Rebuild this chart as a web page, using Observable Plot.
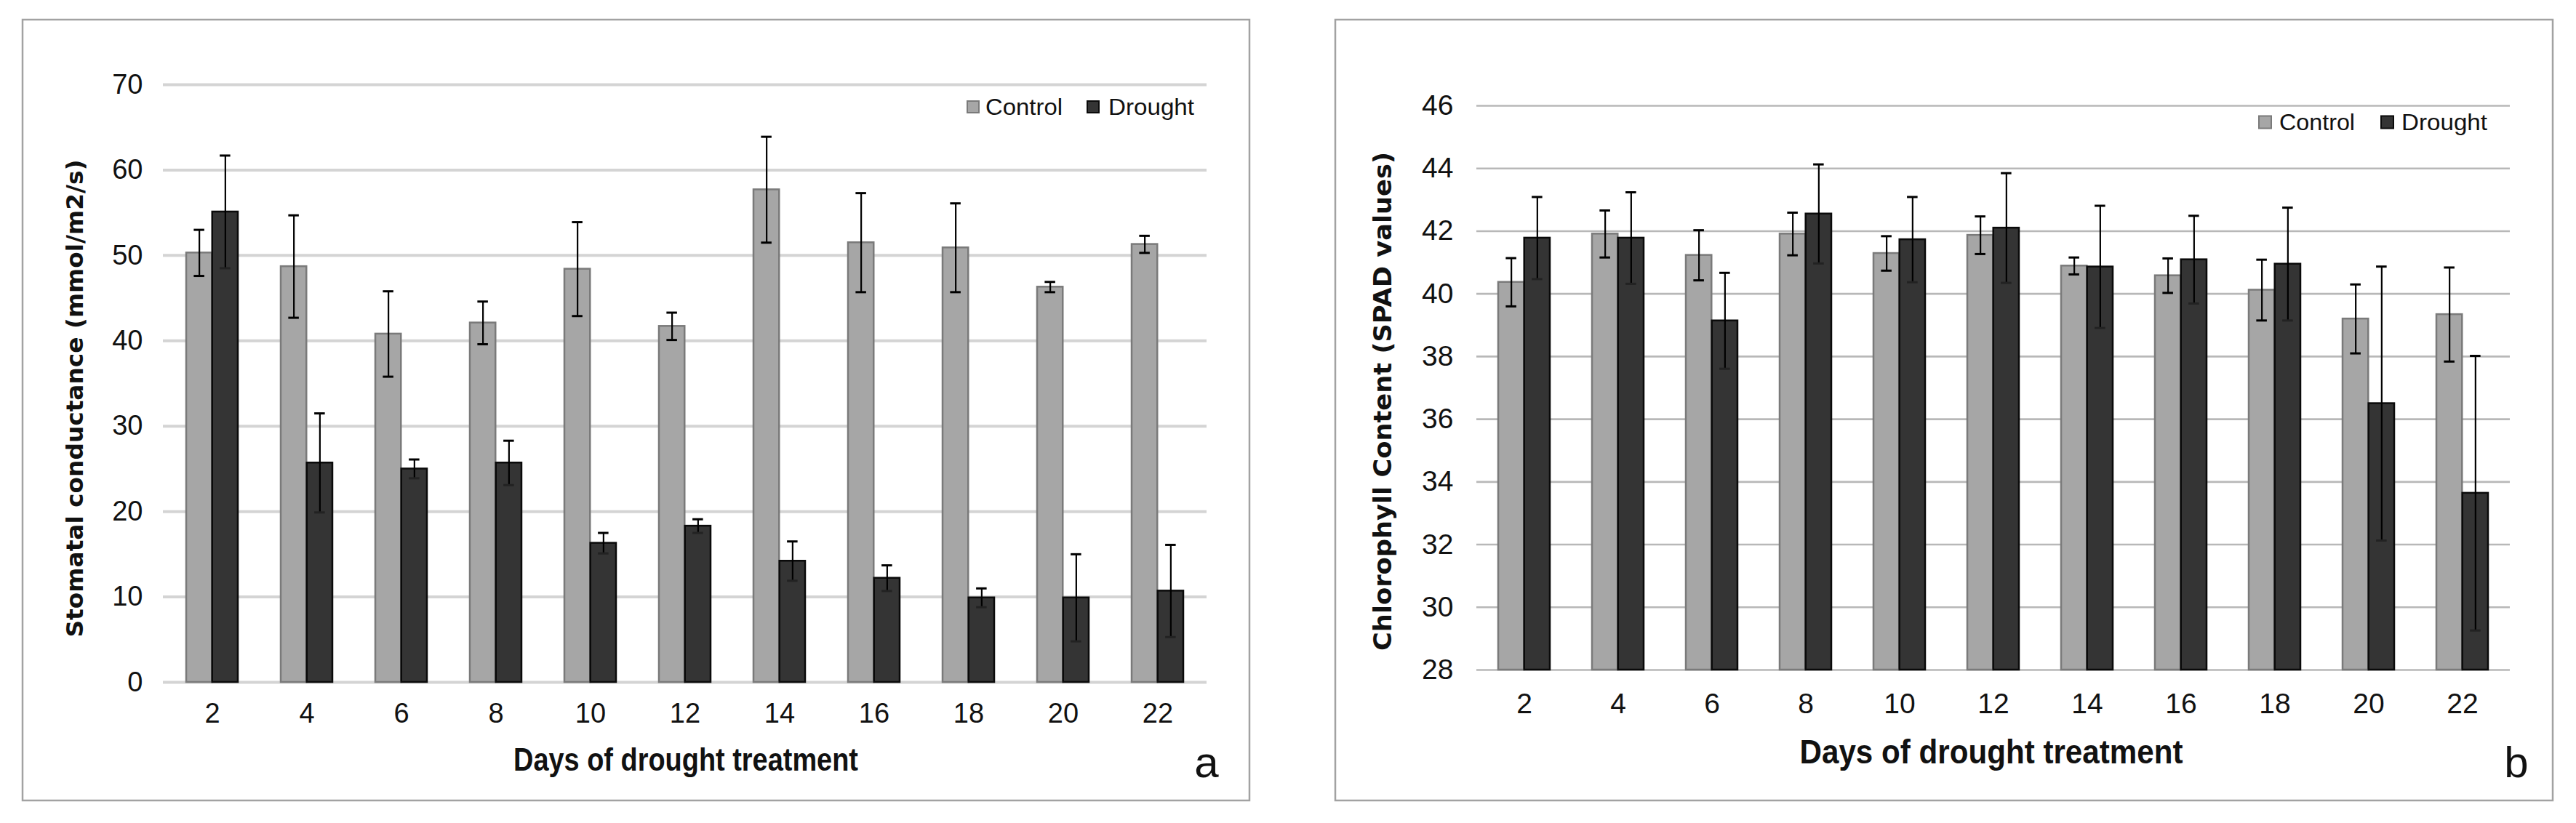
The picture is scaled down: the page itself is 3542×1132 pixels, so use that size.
<!DOCTYPE html>
<html>
<head>
<meta charset="utf-8">
<script src="https://cdn.jsdelivr.net/npm/d3@7"></script>
<script src="https://cdn.jsdelivr.net/npm/@observablehq/plot@0.6"></script>
<style>
  html, body { margin: 0; padding: 0; background: #fff; }
  #page { position: relative; width: 3542px; height: 1132px; overflow: hidden; background: #fff; }
  .panel { position: absolute; }
  #overlay { position: absolute; left: 0; top: 0; pointer-events: none; }
</style>
</head>
<body>
<div id="page">
  <div id="panelA" class="panel" style="left:31px;top:27px;"></div>
  <div id="panelB" class="panel" style="left:1836px;top:27px;"></div>
</div>
<script>
// ---------- data ----------
const days = [2, 4, 6, 8, 10, 12, 14, 16, 18, 20, 22];
const seriesNames = ["Control", "Drought"];

// Panel a: Stomatal conductance (mmol/m2/s)
const condControl    = [50.3, 48.7, 40.8, 42.1, 48.4, 41.7, 57.7, 51.5, 50.9, 46.3, 51.3];
const condControlErr = [2.7, 6.0, 5.0, 2.5, 5.5, 1.6, 6.2, 5.8, 5.2, 0.6, 1.0];
const condDrought    = [55.1, 25.7, 25.0, 25.7, 16.3, 18.3, 14.2, 12.2, 9.9, 9.9, 10.7];
const condDroughtErr = [6.6, 5.8, 1.1, 2.6, 1.2, 0.8, 2.3, 1.5, 1.1, 5.1, 5.4];
const condTicks = [0, 10, 20, 30, 40, 50, 60, 70];

// Panel b: Chlorophyll content (SPAD values)
const chlControl    = [40.37, 41.91, 41.23, 41.91, 41.29, 41.87, 40.89, 40.58, 40.12, 39.20, 39.34];
const chlControlErr = [0.77, 0.75, 0.80, 0.68, 0.55, 0.60, 0.27, 0.55, 0.97, 1.10, 1.50];
const chlDrought    = [41.78, 41.78, 39.14, 42.55, 41.73, 42.10, 40.86, 41.09, 40.95, 36.50, 33.64];
const chlDroughtErr = [1.31, 1.46, 1.53, 1.58, 1.36, 1.75, 1.95, 1.40, 1.80, 4.37, 4.38];
const chlTicks = [28, 30, 32, 34, 36, 38, 40, 42, 44, 46];

// texts
const titleA = "Stomatal conductance (mmol/m2/s)";
const titleB = "Chlorophyll Content (SPAD values)";
const xTitle = "Days of drought treatment";

// ---------- drawing ----------
const colControlFill = "#a6a6a6", colControlStroke = "#7a7a7a";
const colDroughtFill = "#343434", colDroughtStroke = "#0a0a0a";

function panel({control, controlErr, drought, droughtErr, ticks, width, height,
                marginLeft, marginRight, marginTop, marginBottom, padInner,
                gridStroke, gridWidth, tickPadX, tickPadY, fontSize}) {
  const rows = days.map((d, i) => ({
    day: d, control: control[i], controlErr: controlErr[i],
    drought: drought[i], droughtErr: droughtErr[i]
  }));
  const base = ticks[0];
  const step = (width - marginLeft - marginRight) / days.length;
  const bw = step * (1 - padInner);
  const half = bw / 2, quarter = bw / 4, cap = 7.5;
  const err = (key, sign) => d => d[key] + sign * d[key + "Err"];
  return Plot.plot({
    width, height, marginLeft, marginRight, marginTop, marginBottom,
    style: {fontFamily: "'Liberation Sans', Arial, sans-serif", fontSize: fontSize + "px", color: "#111", background: "transparent"},
    x: {type: "band", domain: days, paddingInner: padInner, paddingOuter: padInner / 2,
        tickSize: 0, tickPadding: tickPadX, label: null},
    y: {domain: [ticks[0], ticks[ticks.length - 1]], ticks, tickSize: 0, tickPadding: tickPadY, label: null},
    marks: [
      Plot.ruleY(ticks, {stroke: gridStroke, strokeWidth: gridWidth}),
      Plot.barY(rows, {x: "day", y1: () => base, y2: "control", insetRight: half,
        fill: colControlFill, stroke: colControlStroke, strokeWidth: 2.5}),
      Plot.barY(rows, {x: "day", y1: () => base, y2: "drought", insetLeft: half,
        fill: colDroughtFill, stroke: colDroughtStroke, strokeWidth: 2.5}),
      Plot.ruleX(rows, {x: "day", y1: err("control", -1), y2: err("control", 1), dx: -quarter, stroke: "#000", strokeWidth: 2.2}),
      Plot.tickY(rows, {x: "day", y: err("control", 1), insetLeft: quarter - cap, insetRight: 3 * quarter - cap, stroke: "#000", strokeWidth: 3}),
      Plot.tickY(rows, {x: "day", y: err("control", -1), insetLeft: quarter - cap, insetRight: 3 * quarter - cap, stroke: "#000", strokeWidth: 3}),
      Plot.ruleX(rows, {x: "day", y1: err("drought", -1), y2: err("drought", 1), dx: quarter, stroke: "#000", strokeWidth: 2.2}),
      Plot.tickY(rows, {x: "day", y: err("drought", 1), insetLeft: 3 * quarter - cap, insetRight: quarter - cap, stroke: "#000", strokeWidth: 3}),
      Plot.tickY(rows, {x: "day", y: err("drought", -1), insetLeft: 3 * quarter - cap, insetRight: quarter - cap, stroke: "#222", strokeWidth: 3})
    ]
  });
}

document.getElementById("panelA").appendChild(panel({
  control: condControl, controlErr: condControlErr, drought: condDrought, droughtErr: condDroughtErr,
  ticks: condTicks, width: 1687, height: 1074, marginLeft: 193, marginRight: 59, marginTop: 89, marginBottom: 163,
  padInner: 0.452, gridStroke: "#d4d4d4", gridWidth: 4, tickPadX: 29, tickPadY: 28, fontSize: 38
}));

document.getElementById("panelB").appendChild(panel({
  control: chlControl, controlErr: chlControlErr, drought: chlDrought, droughtErr: chlDroughtErr,
  ticks: chlTicks, width: 1674, height: 1074, marginLeft: 194, marginRight: 59, marginTop: 118, marginBottom: 180,
  padInner: 0.447, gridStroke: "#b8b8b8", gridWidth: 2.6, tickPadX: 32, tickPadY: 32, fontSize: 39
}));

// ---------- overlay: frames, axis titles, legends, panel letters ----------
const svg = d3.select("#page").append("svg").attr("id", "overlay")
  .attr("width", 3542).attr("height", 1132);

function frame(x, y, w, h) {
  svg.append("rect").attr("x", x).attr("y", y).attr("width", w).attr("height", h)
    .attr("fill", "none").attr("stroke", "#a2a2a2").attr("stroke-width", 2.5);
}
frame(31, 27, 1687, 1074);
frame(1836, 27, 1674, 1074);

function label(text, {x, y, size, len, weight = "normal", family, rotate = 0, anchor = "middle"}) {
  const t = svg.append("text").text(text)
    .attr("transform", `translate(${x},${y}) rotate(${rotate})`)
    .attr("text-anchor", anchor).attr("dominant-baseline", "central")
    .attr("font-family", family).attr("font-size", size).attr("font-weight", weight)
    .attr("fill", "#111");
  if (len) t.attr("textLength", len).attr("lengthAdjust", "spacingAndGlyphs");
  return t;
}
const verdana = "'DejaVu Sans', Verdana, sans-serif";
const arial = "'Liberation Sans', Arial, sans-serif";

// y titles
label(titleA, {x: 103, y: 548, size: 32, len: 657, weight: "bold", family: verdana, rotate: -90});
label(titleB, {x: 1901, y: 552, size: 34, len: 686, weight: "bold", family: verdana, rotate: -90});
// x titles
label(xTitle, {x: 943, y: 1044, size: 44, len: 474, weight: "bold", family: arial});
label(xTitle, {x: 2738, y: 1034, size: 46, len: 527, weight: "bold", family: arial});

// legends
function legend(y, sqSize, entries) {
  entries.forEach((e, i) => {
    svg.append("rect").attr("x", e.sx).attr("y", y - sqSize / 2).attr("width", sqSize).attr("height", sqSize)
      .attr("fill", i === 0 ? colControlFill : colDroughtFill)
      .attr("stroke", i === 0 ? colControlStroke : colDroughtStroke).attr("stroke-width", 2);
    label(seriesNames[i], {x: e.tx, y, size: 32, len: e.tw, family: arial, anchor: "start"});
  });
}
legend(147, 16, [{sx: 1330, tx: 1355, tw: 106}, {sx: 1495, tx: 1524, tw: 118}]);
legend(168, 17, [{sx: 3106, tx: 3134, tw: 104}, {sx: 3274, tx: 3302, tw: 118}]);

// panel letters
label("a", {x: 1659, y: 1048, size: 60, family: arial});
label("b", {x: 3460, y: 1048, size: 60, family: arial});
</script>
</body>
</html>
